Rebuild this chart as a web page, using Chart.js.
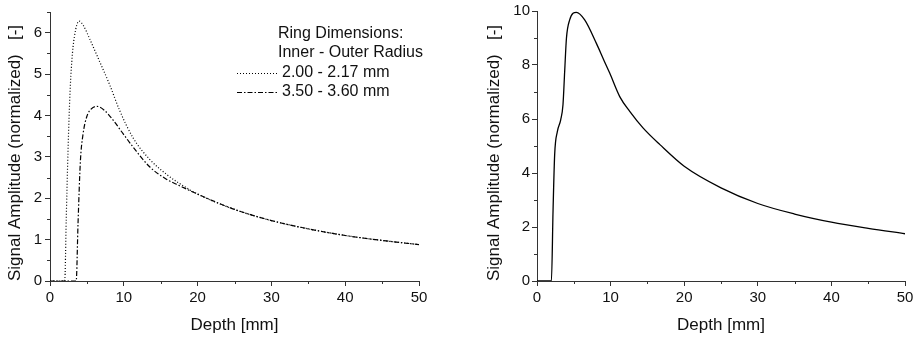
<!DOCTYPE html>
<html>
<head>
<meta charset="utf-8">
<script src="https://cdn.jsdelivr.net/npm/chart.js@4/dist/chart.umd.min.js"></script>
<style>
  body { margin: 0; background: #fff; }
  #left { position: absolute; left: 0; top: 0; }
  #right { position: absolute; left: 458px; top: 0; }
</style>
</head>
<body>
<canvas id="left" width="458" height="339"></canvas>
<canvas id="right" width="459" height="339"></canvas>
<script>
// ring 2.00 - 2.17 mm (dotted)
const depthA = [0, 2.0, 2.2, 2.45, 2.7, 2.95, 3.3, 3.95, 4.5, 5.4, 6.73, 8.09, 9.44, 11.25, 13.5, 15.77, 17.35, 20, 25, 30, 35, 40, 45, 50];
const ampA   = [0, 0, 1.5, 3.2, 4.5, 5.3, 5.9, 6.28, 6.18, 5.84, 5.3, 4.74, 4.12, 3.46, 2.94, 2.58, 2.38, 2.1, 1.73, 1.46, 1.26, 1.1, 0.98, 0.88];
// ring 3.50 - 3.60 mm (dash dot)
const depthB = [0, 3.55, 3.8, 4.12, 4.47, 5.0, 5.6, 6.35, 7.4, 8.5, 9.9, 11.25, 13.5, 15.77, 17.35, 20, 25, 30, 35, 40, 45, 50];
const ampB   = [0, 0, 1.4, 2.9, 3.54, 3.98, 4.16, 4.22, 4.12, 3.9, 3.56, 3.24, 2.76, 2.46, 2.32, 2.1, 1.73, 1.46, 1.26, 1.1, 0.98, 0.88];
// right panel (solid)
const depthC = [0, 1.96, 2.18, 2.4, 2.77, 3.22, 3.53, 3.76, 4.0, 4.44, 5.35, 6.48, 8.07, 9.1, 9.88, 11.24, 12.6, 14.4, 16.7, 20, 25, 30, 35, 40, 45, 50];
const ampC   = [0, 0, 2.6, 4.68, 5.54, 5.97, 6.53, 7.76, 8.99, 9.67, 9.95, 9.67, 8.8, 8.17, 7.7, 6.83, 6.28, 5.67, 5.05, 4.25, 3.45, 2.87, 2.48, 2.18, 1.95, 1.75];

const legendTitle = ['Ring Dimensions:', 'Inner - Outer Radius'];
const seriesNames = ['2.00 - 2.17 mm', '3.50 - 3.60 mm'];
const xTitle = 'Depth [mm]';
const yTitle = 'Signal Amplitude (normalized)   [-]';

const FONT = 'Liberation Sans, Arial, sans-serif';
const AXIS = '#333';
const INK = '#111';
const DOT = [1, 2];
const DASHDOT = [5, 2, 1.5, 2];

function pts(xs, ys) { return xs.map((x, i) => ({ x: x, y: ys[i] })); }

// short minor ticks
const minorTicks = {
  id: 'minorTicks',
  afterDraw(chart, args, opts) {
    const ctx = chart.ctx;
    const xs = chart.scales.x, ys = chart.scales.y;
    ctx.save();
    ctx.strokeStyle = AXIS;
    ctx.lineWidth = 1;
    ctx.beginPath();
    xs.ticks.forEach(t => {
      if (t.value % opts.xMajor !== 0) {
        const px = Math.round(xs.getPixelForValue(t.value)) + 0.5;
        ctx.moveTo(px, xs.top);
        ctx.lineTo(px, xs.top + 3);
      }
    });
    ys.ticks.forEach(t => {
      if (t.value % opts.yMajor !== 0) {
        const py = Math.round(ys.getPixelForValue(t.value)) + 0.5;
        ctx.moveTo(ys.right, py);
        ctx.lineTo(ys.right - 3, py);
      }
    });
    ctx.stroke();
    ctx.restore();
  }
};

const legendDraw = {
  id: 'legendDraw',
  afterDraw(chart) {
    const ctx = chart.ctx;
    ctx.save();
    ctx.font = '16px ' + FONT;
    ctx.fillStyle = INK;
    ctx.textBaseline = 'middle';
    ctx.fillText(legendTitle[0], 278, 34);
    ctx.fillText(legendTitle[1], 278, 53);
    const dashes = [DOT, DASHDOT];
    [73, 92].forEach((y, i) => {
      ctx.setLineDash(dashes[i]);
      ctx.strokeStyle = '#000';
      ctx.lineWidth = 1.2;
      ctx.beginPath();
      ctx.moveTo(237, y + 0.5);
      ctx.lineTo(277, y + 0.5);
      ctx.stroke();
      ctx.fillText(seriesNames[i], 282, y);
    });
    ctx.restore();
  }
};

function makeOptions(yMax, yStep, yMajor, yWidth, titlePad, tickPad, pad) {
  return {
    responsive: false,
    animation: false,
    layout: { padding: pad },
    plugins: { legend: { display: false }, tooltip: { enabled: false }, minorTicks: { xMajor: 10, yMajor: yMajor } },
    elements: { point: { radius: 0 } },
    scales: {
      x: {
        type: 'linear', min: 0, max: 50,
        afterFit: s => { s.height = 58; },
        border: { color: AXIS, width: 1 },
        grid: { drawOnChartArea: false, tickLength: 5, tickColor: c => (c.tick && c.tick.value % 10 === 0) ? AXIS : 'rgba(0,0,0,0)' },
        ticks: { stepSize: 5, autoSkip: false, maxRotation: 0, padding: 3, color: INK, font: { family: FONT, size: 15 },
          callback: v => v % 10 === 0 ? v : '' },
        title: { display: true, text: xTitle, color: INK, font: { family: FONT, size: 17 }, padding: { top: 0, bottom: 3.8 } }
      },
      y: {
        type: 'linear', min: 0, max: yMax,
        afterFit: s => { s.width = yWidth; },
        border: { color: AXIS, width: 1 },
        grid: { drawOnChartArea: false, tickLength: 5, tickColor: c => (c.tick && c.tick.value % yMajor === 0) ? AXIS : 'rgba(0,0,0,0)' },
        ticks: { stepSize: yStep, autoSkip: false, padding: tickPad, color: INK, font: { family: FONT, size: 15 },
          callback: v => v % yMajor === 0 ? v : '' },
        title: { display: true, text: yTitle, align: 'start', color: INK, font: { family: FONT, size: 17 }, padding: { top: titlePad, bottom: 0 } }
      }
    }
  };
}

new Chart(document.getElementById('left'), {
  type: 'scatter',
  data: {
    datasets: [
      { label: seriesNames[0], data: pts(depthA, ampA), showLine: true, borderColor: '#000', borderWidth: 1.2, borderDash: DOT, cubicInterpolationMode: 'monotone' },
      { label: seriesNames[1], data: pts(depthB, ampB), showLine: true, borderColor: '#000', borderWidth: 1.2, borderDash: DASHDOT, cubicInterpolationMode: 'monotone' }
    ]
  },
  options: makeOptions(6.5, 0.5, 1, 50, 4.8, 3, { top: 10, right: 39, left: 0, bottom: 0 }),
  plugins: [minorTicks, legendDraw]
});

new Chart(document.getElementById('right'), {
  type: 'scatter',
  data: {
    datasets: [
      { label: 'signal', data: pts(depthC, ampC), showLine: true, borderColor: '#000', borderWidth: 1.3, cubicInterpolationMode: 'monotone' }
    ]
  },
  options: makeOptions(10, 1, 2, 79, 26.3, 2, { top: 10, right: 12, left: 0, bottom: 0 }),
  plugins: [minorTicks]
});
</script>
</body>
</html>
